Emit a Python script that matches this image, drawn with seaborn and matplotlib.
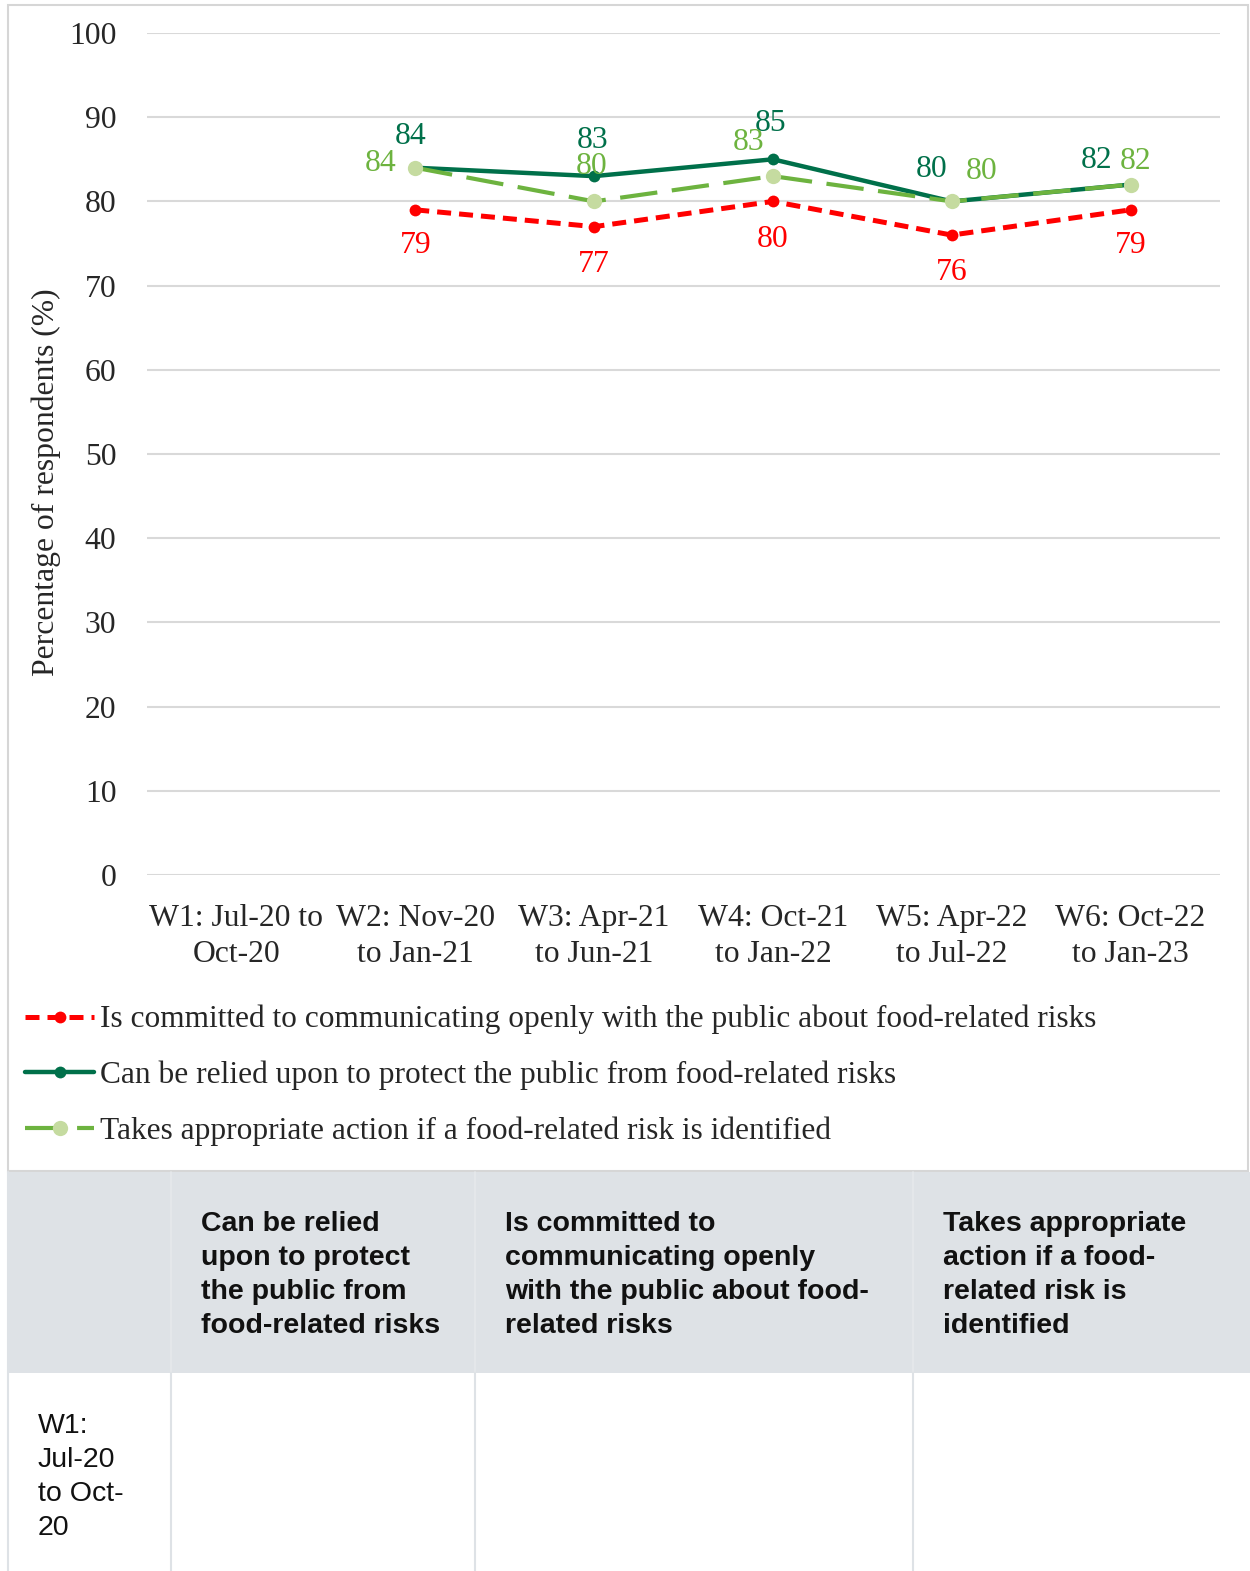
import numpy as np
import matplotlib
matplotlib.use("Agg")
import matplotlib.pyplot as plt
import seaborn as sns
from matplotlib.patches import Rectangle

### DATA ###

waves = [
    "W1: Jul-20 to\nOct-20",
    "W2: Nov-20\nto Jan-21",
    "W3: Apr-21\nto Jun-21",
    "W4: Oct-21\nto Jan-22",
    "W5: Apr-22\nto Jul-22",
    "W6: Oct-22\nto Jan-23",
]

communicating = [np.nan, 79, 77, 80, 76, 79]
relied = [np.nan, 84, 83, 85, 80, 82]
action = [np.nan, 84, 80, 83, 80, 82]

label_communicating = "Is committed to communicating openly with the public about food-related risks"
label_relied = "Can be relied upon to protect the public from food-related risks"
label_action = "Takes appropriate action if a food-related risk is identified"

table_headers = [
    "",
    "Can be relied\nupon to protect\nthe public from\nfood-related risks",
    "Is committed to\ncommunicating openly\nwith the public about food-\nrelated risks",
    "Takes appropriate\naction if a food-\nrelated risk is\nidentified",
]
table_row = ["W1:\nJul-20\nto Oct-\n20", "", "", ""]

### STYLE ###

sns.set_theme(style="white")
plt.rcParams["font.family"] = ["Liberation Serif", "DejaVu Serif"]

RED = "#FF0000"
DARK_GREEN = "#00704A"
LIGHT_GREEN = "#6DB33F"
LIGHT_MARKER = "#C5DBA0"
GRID = "#D9D9D9"
FS = 22.8
TABLE_FS = 20.5
SANS = ["Liberation Sans", "DejaVu Sans"]

W, H = 1250, 1571
fig = plt.figure(figsize=(W / 100, H / 100), dpi=100)

# background layer in pixel coordinates (borders + table)
bg = fig.add_axes([0, 0, 1, 1], zorder=0)
bg.set_xlim(0, W)
bg.set_ylim(H, 0)
bg.axis("off")

# chart image frame
bg.add_patch(Rectangle((8, 5), 1240, 1166, facecolor="white",
                       edgecolor="#D6D6D6", linewidth=1.5))

# table header
bg.add_patch(Rectangle((8, 1172), 1242, 201, facecolor="#DEE2E6",
                       edgecolor="none"))
col_edges = [8, 171, 475, 913, 1250]
for x in col_edges[1:-1]:
    bg.plot([x, x], [1172, 1373], color="#E6E9EC", linewidth=1.2)
    bg.plot([x, x], [1373, H], color="#DEE2E6", linewidth=1.5)
bg.plot([8, 8], [1172, H], color="#DEE2E6", linewidth=1.5)

text_x = [38, 201, 505, 943]
for x, txt in zip(text_x, table_headers):
    if txt:
        bg.text(x, 1211, txt, ha="left", va="top", fontsize=TABLE_FS,
                fontweight="bold", family=SANS, color="#111111",
                linespacing=1.4)
for x, txt in zip(text_x, table_row):
    if txt:
        bg.text(x, 1413, txt, ha="left", va="top", fontsize=TABLE_FS,
                family=SANS, color="#111111", linespacing=1.4)

### CHART ###

ax = fig.add_axes([147 / W, (H - 875) / H, 1073 / W, 842 / H], zorder=2)
ax.patch.set_alpha(0)

xpos = np.arange(len(waves))

sns.lineplot(x=xpos, y=communicating, ax=ax, color=RED, linewidth=3.6,
             marker="o", markersize=8.5, markeredgewidth=0,
             dashes=(2.8, 1.6), label=label_communicating)
sns.lineplot(x=xpos, y=relied, ax=ax, color=DARK_GREEN, linewidth=3.2,
             marker="o", markersize=8.5, markeredgewidth=0,
             label=label_relied)
sns.lineplot(x=xpos, y=action, ax=ax, color=LIGHT_GREEN, linewidth=3.0,
             marker="o", markersize=11, markerfacecolor=LIGHT_MARKER,
             markeredgewidth=0, dashes=(9, 3.5), label=label_action)

ax.set_xlim(-0.5, len(waves) - 0.5)
ax.set_ylim(0, 100)
ax.set_yticks(range(0, 101, 10))
ax.set_xticks(xpos)
ax.set_xticklabels(waves, fontsize=FS, linespacing=1.32)
ax.tick_params(axis="y", labelsize=FS, pad=22, length=0)
ax.tick_params(axis="x", pad=21, length=0)
ax.grid(axis="y", color=GRID, linewidth=1.5)
ax.set_axisbelow(True)
for s in ax.spines.values():
    s.set_visible(False)

ax.set_ylabel("Percentage of respondents (%)", fontsize=FS)
ax.yaxis.set_label_coords(-0.080, 0.466)

# data labels (pixel offsets from the point)
red_offsets = [None, (0, -36), (0, -38), (0, -38), (0, -37), (0, -36)]
dark_offsets = [None, (-5, 31), (-2, 36), (-2, 36), (-20, 32), (-34, 24)]
light_offsets = [None, (-35, 4), (-2, 35), (-24, 34), (30, 30), (5, 23)]

for vals, offs, col in [
    (communicating, red_offsets, RED),
    (relied, dark_offsets, DARK_GREEN),
    (action, light_offsets, LIGHT_GREEN),
]:
    for i, v in enumerate(vals):
        if np.isnan(v):
            continue
        ax.annotate(f"{v:.0f}", (i, v), xytext=offs[i],
                    textcoords="offset pixels", ha="center", va="center",
                    fontsize=FS, color=col)

ax.get_legend().remove()
handles, labels = ax.get_legend_handles_labels()
fig.legend(handles, labels, loc="upper left",
           bbox_to_anchor=(25 / W, (H - 1005) / H), frameon=False,
           fontsize=22.6, handlelength=2.2, handletextpad=0.2,
           labelspacing=0.83, borderpad=0, borderaxespad=0, numpoints=1)

fig.savefig("out.png", dpi=100)
